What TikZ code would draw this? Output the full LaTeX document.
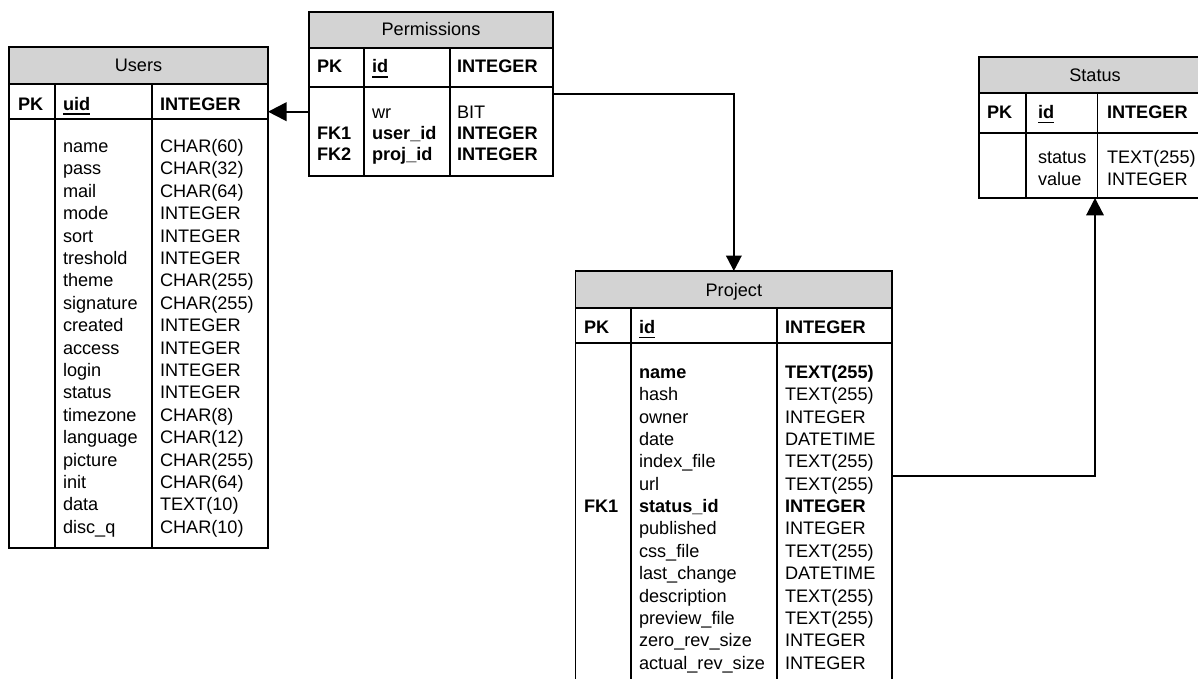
\documentclass[tikz,border=0pt]{standalone}
\usepackage{fontspec}
\setmainfont{Liberation Sans}
\usetikzlibrary{arrows.meta,fit}
\definecolor{headgray}{HTML}{D3D3D3}
% underlined primary-key column name
\newcommand\pkul[1]{\setbox0=\hbox{#1}\rlap{\rule[-3.6pt]{\wd0}{1.2pt}}\box0}
\tikzset{
  tablebox/.style={draw, line width=1pt, inner sep=0pt, outer sep=0pt},
  gridline/.style={line width=1pt},
  cell/.style={inner sep=0pt, outer sep=0pt, anchor=base west, font=\fontsize{13.6}{16}\selectfont},
  titletext/.style={cell, anchor=base},
  conn/.style={line width=1.6pt},
  tip/.style={-{Triangle[length=#1,width=#1]}},
}
\begin{document}
\begin{tikzpicture}[x=0.75pt,y=-0.75pt]
\useasboundingbox (0,0) rectangle (1198,678);
\clip (0,0) rectangle (1198,678);

% ---------------- Users ----------------
\fill[headgray] (9,47) rectangle (268,84);
\draw[gridline] (9,84) -- (268,84) (9,119) -- (268,119) (55,84) -- (55,548) (152,84) -- (152,548);
\node[tablebox, fit={(9,47) (268,548)}] (users) {};
\node[titletext] (users-title) at (138.5,71.7) {Users};
\node[cell] (users-pk) at (18,110) {\bfseries PK};
\node[cell] (users-pkname) at (63,110) {\bfseries\pkul{uid}};
\node[cell] (users-pktype) at (160,110) {\bfseries INTEGER};
\foreach \t [count=\i from 0] in {name,pass,mail,mode,sort,treshold,theme,signature,created,access,login,status,timezone,language,picture,init,data,disc\_q}
  \node[cell] (users-f\i) at (63,152.5+22.4*\i) {\t};
\foreach \t [count=\i from 0] in {CHAR(60),CHAR(32),CHAR(64),INTEGER,INTEGER,INTEGER,CHAR(255),CHAR(255),INTEGER,INTEGER,INTEGER,INTEGER,CHAR(8),CHAR(12),CHAR(255),CHAR(64),TEXT(10),CHAR(10)}
  \node[cell] (users-t\i) at (160,152.5+22.4*\i) {\t};

% ---------------- Permissions ----------------
\fill[headgray] (309,12) rectangle (553,48);
\draw[gridline] (309,48) -- (553,48) (309,87) -- (553,87) (364,48) -- (364,176) (450,48) -- (450,176);
\node[tablebox, fit={(309,12) (553,176)}] (perm) {};
\node[titletext] (perm-title) at (431,36) {Permissions};
\node[cell] (perm-pk) at (317,72.7) {\bfseries PK};
\node[cell] (perm-pkname) at (372,72.7) {\bfseries\pkul{id}};
\node[cell] (perm-pktype) at (457,72.7) {\bfseries INTEGER};
\node[cell] (perm-f0) at (372,118.3) {wr};
\node[cell] (perm-t0) at (457,118.3) {BIT};
\node[cell] (perm-k1) at (317,139.3) {\bfseries FK1};
\node[cell] (perm-f1) at (372,139.3) {\bfseries user\_id};
\node[cell] (perm-t1) at (457,139.3) {\bfseries INTEGER};
\node[cell] (perm-k2) at (317,160.3) {\bfseries FK2};
\node[cell] (perm-f2) at (372,160.3) {\bfseries proj\_id};
\node[cell] (perm-t2) at (457,160.3) {\bfseries INTEGER};

% ---------------- Status ----------------
\fill[headgray] (979,57) rectangle (1211,93);
\draw[gridline] (979,93) -- (1211,93) (979,133) -- (1211,133) (1026,93) -- (1026,198) (1097.7,93) -- (1097.7,198);
\node[tablebox, fit={(979,57) (1211,198)}] (status) {};
\node[titletext] (status-title) at (1095,81.7) {Status};
\node[cell] (status-pk) at (987,118.3) {\bfseries PK};
\node[cell] (status-pkname) at (1038,118.3) {\bfseries\pkul{id}};
\node[cell] (status-pktype) at (1107,118.3) {\bfseries INTEGER};
\node[cell] (status-f0) at (1038,163.3) {status};
\node[cell] (status-t0) at (1107,163.3) {TEXT(255)};
\node[cell] (status-f1) at (1038,185) {value};
\node[cell] (status-t1) at (1107,185) {INTEGER};

% ---------------- Project ----------------
\fill[headgray] (575.7,271) rectangle (892,308);
\draw[gridline] (575.7,308) -- (892,308) (575.7,343) -- (892,343) (631,308) -- (631,700) (777,308) -- (777,700);
\node[tablebox, fit={(575.7,271) (892,700)}] (project) {};
\node[titletext] (project-title) at (733.85,296.7) {Project};
\node[cell] (project-pk) at (584,333.3) {\bfseries PK};
\node[cell] (project-pkname) at (639,333.3) {\bfseries\pkul{id}};
\node[cell] (project-pktype) at (785,333.3) {\bfseries INTEGER};
\node[cell] (project-k1) at (584,378.3+6*22.38) {\bfseries FK1};
\foreach \t [count=\i from 0] in {{\bfseries name},hash,owner,date,index\_file,url,{\bfseries status\_id},published,css\_file,last\_change,description,preview\_file,zero\_rev\_size,actual\_rev\_size}
  \node[cell] (project-f\i) at (639,378.3+22.38*\i) {\t};
\foreach \t [count=\i from 0] in {{\bfseries TEXT(255)},TEXT(255),INTEGER,DATETIME,TEXT(255),TEXT(255),{\bfseries INTEGER},INTEGER,TEXT(255),DATETIME,TEXT(255),TEXT(255),INTEGER,INTEGER}
  \node[cell] (project-t\i) at (785,378.3+22.38*\i) {\t};

% ---------------- Relationships ----------------
\draw[conn, tip=14pt] (perm.west |- 0,111.7) -- (users.east |- 0,111.7);
\draw[conn, tip=11.5pt] (perm.east |- 0,94) -| (project.north);
\draw[conn, tip=13pt] (project.east |- 0,476) -| (status.south);
\end{tikzpicture}
\end{document}
